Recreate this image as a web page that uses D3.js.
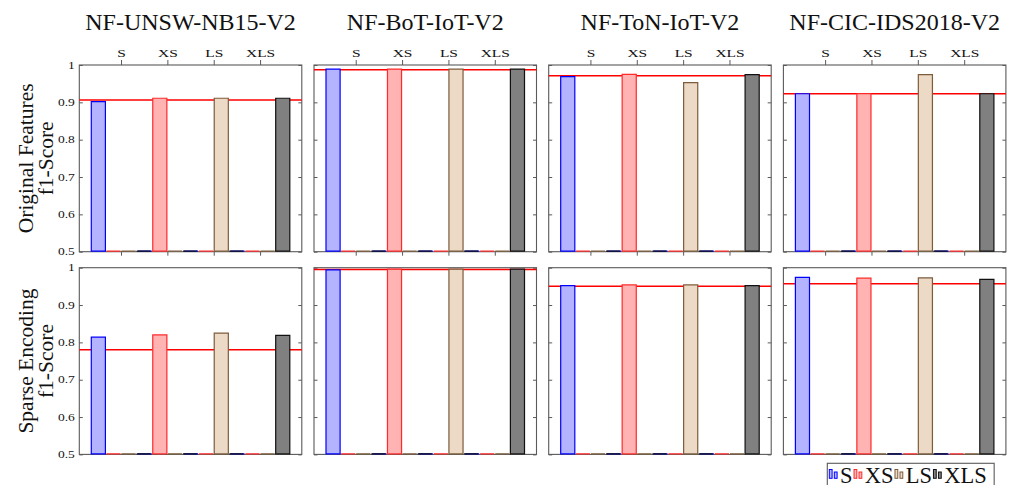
<!DOCTYPE html>
<html>
<head>
<meta charset="utf-8">
<script src="https://cdn.jsdelivr.net/npm/d3@7/dist/d3.min.js"></script>
<style>
  html, body { margin: 0; padding: 0; background: #fff; }
  svg { display: block; }
  text { font-family: "Liberation Serif", "Times New Roman", serif; fill: #111; }
</style>
</head>
<body>
<svg id="chart" width="1009" height="485"></svg>
<script>
// ---------- data ----------
const datasets = ["NF-UNSW-NB15-V2", "NF-BoT-IoT-V2", "NF-ToN-IoT-V2", "NF-CIC-IDS2018-V2"];
const categories = ["S", "XS", "LS", "XLS"];
const rowLabels = [["Original Features", "f1-Score"], ["Sparse Encoding", "f1-Score"]];
const yTicks = [0.5, 0.6, 0.7, 0.8, 0.9, 1];

// f1-score per dataset, per encoding size (S, XS, LS, XLS)
const originalScores = [
  [0.902, 0.911, 0.911, 0.911],
  [0.989, 0.989, 0.989, 0.989],
  [0.969, 0.975, 0.953, 0.974],
  [0.923, 0.923, 0.974, 0.923]
];
const originalBaseline = [0.906, 0.987, 0.971, 0.923];

const sparseScores = [
  [0.814, 0.820, 0.825, 0.819],
  [0.994, 0.996, 0.996, 0.996],
  [0.952, 0.954, 0.954, 0.952],
  [0.974, 0.972, 0.973, 0.969]
];
const sparseBaseline = [0.780, 0.995, 0.950, 0.957];

const seriesFill = ["#b3b3ff", "#ffb3b3", "#ecd9c6", "#808080"];
const seriesStroke = ["#0000ff", "#ff2a2a", "#7d5c3b", "#111111"];

// ---------- layout ----------
const svg = d3.select("#chart");
const panelW = 222.5, panelH = 186.7;
const colLeft = c => 79.3 + c * 234.7;
const rowTop = r => 65 + r * 202.7;
const rows = [
  { scores: originalScores, base: originalBaseline },
  { scores: sparseScores, base: sparseBaseline }
];
const frameColor = "#5a5a5a";

// titles
datasets.forEach((name, c) => {
  svg.append("text")
    .attr("x", colLeft(c) + panelW / 2)
    .attr("y", 30)
    .attr("text-anchor", "middle")
    .attr("font-size", 24)
    .text(name);
});

// row labels
rowLabels.forEach((lines, r) => {
  const cy = rowTop(r) + panelH / 2;
  lines.forEach((t, i) => {
    svg.append("text")
      .attr("transform", `translate(${33 + i * 20},${cy}) rotate(-90)`)
      .attr("text-anchor", "middle")
      .attr("font-size", 21.5)
      .text(t);
  });
});

rows.forEach((row, r) => {
  datasets.forEach((name, c) => {
    const g = svg.append("g").attr("transform", `translate(${colLeft(c)},${rowTop(r)})`);
    const x = d3.scalePoint().domain(categories).range([0, panelW]).padding(0.9);
    const y = d3.scaleLinear().domain([0.5, 1]).range([panelH, 0]).clamp(true);
    const bw = x.step() * 0.326;

    // frame
    g.append("rect")
      .attr("x", 0).attr("y", 0).attr("width", panelW).attr("height", panelH)
      .attr("fill", "none").attr("stroke", frameColor).attr("stroke-width", 1.1);

    // y axes (inside ticks both sides)
    const yl = g.append("g").call(
      d3.axisLeft(y).tickValues(yTicks).tickSize(-3.5).tickPadding(4.5)
        .tickFormat(d => c === 0 ? (d === 1 ? "1" : d3.format(".1f")(d)) : ""));
    const yr = g.append("g").attr("transform", `translate(${panelW},0)`)
      .call(d3.axisRight(y).tickValues(yTicks).tickSize(-3.5).tickFormat(""));
    [yl, yr].forEach(a => {
      a.select(".domain").remove();
      a.selectAll("line").attr("stroke", frameColor);
    });
    yl.selectAll("text")
      .attr("font-size", 10).attr("fill", "#111")
      .attr("x", -4.5 / 1.35)
      .attr("transform", "scale(1.35,1)");

    // x axes (only top row)
    if (r === 0) {
      const xt = g.append("g").call(d3.axisTop(x).tickSize(5).tickPadding(2.7));
      const xb = g.append("g").attr("transform", `translate(0,${panelH})`)
        .call(d3.axisBottom(x).tickSize(4).tickFormat(""));
      [xt, xb].forEach(a => {
        a.select(".domain").remove();
        a.selectAll("line").attr("stroke", frameColor);
      });
      xt.selectAll("text")
        .attr("font-size", 11).attr("fill", "#111")
        .attr("transform", "scale(1.4,1)");
    }

    // baseline (red line) drawn behind bars
    g.append("line")
      .attr("x1", 0).attr("x2", panelW)
      .attr("y1", y(row.base[c])).attr("y2", y(row.base[c]))
      .attr("stroke", "#ff0000").attr("stroke-width", 1.5);

    // bars: each series has a value only at its own category, zero elsewhere
    const scores = row.scores[c];
    categories.forEach((sName, s) => {
      const vals = categories.map((cat, j) => (j === s ? scores[s] : 0));
      g.append("g").selectAll("path")
        .data(vals.map((v, j) => ({ v, cat: categories[j] })))
        .join("path")
        .attr("d", d => {
          const cx = x(d.cat) + (s - 1.5) * bw;
          const x0 = cx - bw / 2 + 0.5, x1 = cx + bw / 2 - 0.5;
          const y0 = y(d.v), y1 = y(0.5) - 0.6;
          return `M${x0},${Math.min(y0, y1)}H${x1}V${y1}H${x0}Z`;
        })
        .attr("fill", seriesFill[s])
        .attr("stroke", seriesStroke[s])
        .attr("stroke-width", 1.2);
    });
  });
});

// legend
const lg = svg.append("g");
const lgLeft = 827.3, lgTop = 463.3;
let cursor = lgLeft + 2;
categories.forEach((cat, s) => {
  const it = lg.append("g");
  it.append("rect").attr("x", cursor).attr("y", 469.5).attr("width", 2.8).attr("height", 8.8)
    .attr("fill", seriesFill[s]).attr("stroke", seriesStroke[s]).attr("stroke-width", 1);
  it.append("rect").attr("x", cursor + 5).attr("y", 472).attr("width", 2.8).attr("height", 6.3)
    .attr("fill", seriesFill[s]).attr("stroke", seriesStroke[s]).attr("stroke-width", 1);
  const t = it.append("text").attr("x", cursor + 10.7).attr("y", 483)
    .attr("font-size", 22.5).text(cat);
  cursor += 10.7 + t.node().getComputedTextLength() + 1.5;
});
lg.insert("rect", ":first-child")
  .attr("x", lgLeft).attr("y", lgTop).attr("width", cursor - lgLeft + 6).attr("height", 30)
  .attr("fill", "#fff").attr("stroke", frameColor).attr("stroke-width", 1.1);
</script>
</body>
</html>
